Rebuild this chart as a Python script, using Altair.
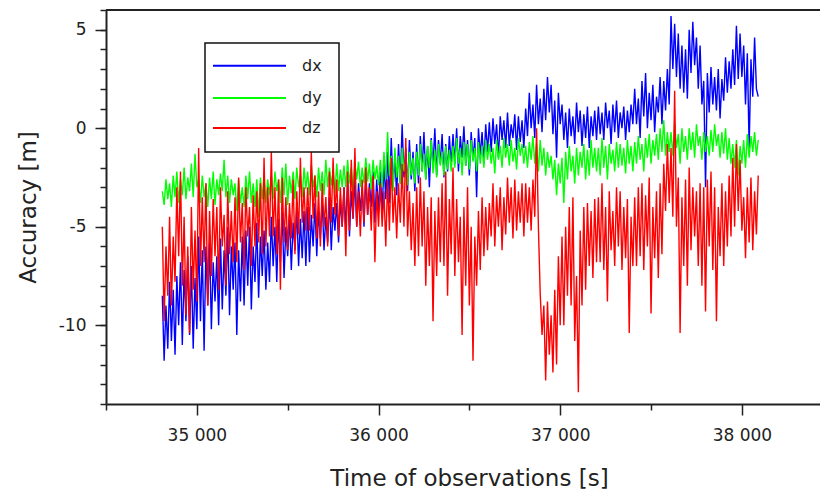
import altair as alt
import pandas as pd

SERIES = ["dx", "dy", "dz"]
COLORS = ["#0000ff", "#00ff00", "#ff0000"]

T_START = 34810
T_STEP = 10

dx = [
    -8.5, -11.8, -9.0, -11.2, -7.8, -10.8, -8.2, -11.5, -7.5, -10.0, -6.8, -11.0, -7.2, -9.8, -6.5, -10.5, -7.0, -11.2, -7.6, -10.2,
    -5.5, -9.8, -6.2, -11.3, -6.0, -9.0, -5.8, -10.2, -6.8, -8.8, -6.5, -10.0, -5.6, -9.2, -6.2, -8.5, -5.0, -9.5, -6.0, -8.2,
    -5.8, -10.5, -6.2, -8.8, -5.5, -9.0, -5.2, -8.0, -5.0, -9.2, -6.0, -7.8, -4.8, -8.6, -5.5, -7.5, -5.2, -8.2, -5.8, -7.8,
    -4.5, -7.0, -5.0, -7.8, -4.6, -6.8, -4.2, -7.6, -5.0, -6.5, -4.4, -7.2, -4.8, -6.2, -4.0, -7.0, -4.6, -6.6, -4.2, -7.0,
    -4.0, -6.8, -4.4, -6.0, -3.8, -6.5, -4.2, -5.6, -3.6, -6.2, -4.5, -5.8, -3.5, -6.2, -4.0, -5.2, -3.8, -5.8, -3.6, -5.0,
    -3.0, -5.2, -2.6, -5.5, -3.2, -4.6, -2.5, -5.0, -2.8, -4.2, -3.0, -5.0, -2.4, -4.4, -2.8, -4.0, -2.2, -4.8, -2.6, -4.2,
    -2.2, -4.2, -1.8, -3.6, -1.2, -3.8, -0.5, -3.0, -1.5, -3.4, -0.8, -2.8, 0.2, -2.5, -1.0, -3.2, -0.6, -2.6, -1.2, -3.2,
    -0.8, -2.8, -0.4, -2.2, -0.2, -2.6, -0.9, -3.0, -0.5, -2.0, 0.0, -2.4, -0.6, -1.8, -0.3, -2.5, -0.8, -2.2, -0.4, -1.9,
    -0.3, -1.8, 0.0, -2.2, -0.4, -1.5, 0.1, -1.9, -0.6, -2.4, -0.2, -1.6, -0.5, -3.5, 0.0, -1.4, -0.2, -1.8, 0.2, -1.2,
    0.3, -1.2, 0.5, -0.8, 0.2, -1.5, 0.6, -0.6, 0.4, -1.0, 0.8, -0.9, 0.2, -0.5, 0.7, -1.1, 0.6, -0.7, 0.4, -1.0,
    1.0, -0.4, 1.8, 0.0, 1.2, -0.5, 2.2, 0.2, 1.5, -0.2, 2.0, 0.4, 2.6, 0.8, 2.2, -0.3, 1.4, -1.5, 1.8, 0.2,
    1.2, -0.6, 0.8, -1.0, 1.0, -0.4, 0.6, -0.8, 1.3, -0.2, 0.9, -0.9, 0.7, -0.5, 1.1, -1.0, 0.6, -0.4, 0.9, -0.6,
    1.1, -0.3, 0.8, -0.6, 1.3, 0.0, 0.9, -0.8, 1.2, -0.2, 1.4, -0.5, 0.8, 0.0, 1.1, -0.6, 0.9, -0.2, 1.2, 0.2,
    2.0, 0.2, 1.5, -0.5, 2.4, 0.6, 2.8, 0.0, 1.8, 0.4, 2.2, -0.2, 1.6, 0.8, 2.6, 0.2, 2.4, 0.9, 3.0, 1.2,
    5.7, 3.0, 5.3, 2.6, 4.8, 2.0, 4.2, 1.8, 4.0, 1.5, 5.0, 2.8, 5.4, 3.2, 4.6, 2.0, 4.2, 1.2, 2.4, -3.0,
    2.8, 0.8, 3.1, 1.2, 2.6, 0.9, 3.0, 0.5, 2.5, 1.4, 3.6, 1.8, 3.4, 2.0, 4.0, 2.2, 5.2, 2.5, 4.8, 2.6,
    4.2, 1.2, 3.8, -1.0, 3.5, 1.6, 4.6, 2.0, 1.6,
]

dy = [
    -3.2, -3.9, -2.6, -3.6, -2.8, -4.0, -2.4, -3.5, -2.2, -3.8, -2.6, -3.4, -2.0, -3.6, -2.5, -3.2, -1.8, -3.5, -1.3, -3.0,
    -2.6, -3.8, -2.4, -3.5, -2.8, -4.0, -2.5, -3.6, -2.2, -3.9, -2.6, -3.4, -2.3, -3.2, -1.6, -3.5, -2.4, -3.8, -2.6, -3.4,
    -2.8, -4.2, -2.6, -3.8, -3.0, -4.0, -2.4, -3.6, -2.2, -3.8, -2.8, -4.0, -2.6, -4.5, -2.5, -3.6, -2.4, -3.8, -2.6, -3.4,
    -2.4, -3.6, -2.2, -3.2, -2.6, -3.8, -2.0, -3.4, -1.8, -3.9, -2.4, -3.3, -2.2, -3.6, -2.0, -3.0, -2.4, -3.5, -2.0, -3.1,
    -2.2, -3.4, -1.9, -3.0, -2.4, -3.5, -2.0, -3.2, -2.2, -3.4, -1.6, -3.0, -2.0, -2.9, -2.2, -3.3, -1.8, -3.2, -2.1, -3.0,
    -1.9, -3.0, -1.6, -2.8, -2.0, -3.2, -1.8, -2.6, -1.7, -3.0, -2.0, -2.8, -1.5, -2.7, -1.8, -3.1, -1.6, -2.6, -1.9, -2.9,
    -1.6, -3.0, -1.2, -2.6, -0.2, -2.4, -1.4, -3.2, -1.0, -2.5, -1.4, -2.8, -1.0, -2.2, -1.6, -2.9, -1.2, -2.4, -1.5, -2.8,
    -1.2, -2.4, -0.8, -2.2, -1.3, -2.6, -0.9, -2.0, -0.6, -2.3, -1.1, -2.5, -0.8, -1.9, -1.2, -2.4, -0.9, -2.1, -1.1, -2.2,
    -0.9, -2.0, -0.5, -1.8, -1.0, -2.4, -0.7, -1.9, -0.8, -2.1, -0.6, -1.7, -1.0, -2.2, -0.7, -1.8, -0.9, -2.0, -0.6, -1.6,
    -0.8, -1.8, -1.0, -2.3, -0.6, -1.6, -0.9, -2.0, -0.5, -1.5, -0.8, -1.9, -0.6, -1.7, -1.0, -2.1, -0.5, -1.4, -0.8, -1.8,
    -0.9, -2.0, -0.7, -1.6, -0.4, -1.8, -0.8, -2.2, -0.6, -1.9, -1.0, -2.4, -1.2, -2.0, -1.4, -2.6, -1.6, -3.4, -1.8, -2.8,
    -1.5, -3.8, -1.2, -2.6, -0.9, -2.2, -1.4, -2.8, -1.0, -2.4, -1.2, -2.0, -0.8, -2.6, -1.1, -2.4, -0.6, -2.0, -1.0, -2.2,
    -1.0, -2.4, -0.5, -2.0, -0.9, -2.6, -0.8, -1.8, -1.1, -2.2, -0.7, -2.0, -0.8, -1.9, -1.0, -2.3, -0.6, -1.8, -0.9, -2.2,
    -0.7, -1.8, -0.4, -1.6, -0.8, -2.2, -0.5, -1.5, -0.3, -1.8, -0.6, -1.4, -0.3, -1.6, 0.0, -1.2, 0.4, -1.4, -0.2, -1.2,
    -0.2, -1.4, 0.3, -1.0, -0.3, -1.8, 0.0, -1.2, -0.4, -1.6, 0.0, -1.1, -0.2, -1.5, 0.2, -0.9, -0.4, -1.6, -0.2, -1.2,
    -0.4, -1.4, -0.1, -1.2, 0.2, -0.9, -0.3, -1.5, -0.2, -1.3, 0.0, -1.6, -0.5, -1.8, -0.8, -2.0, -0.6, -2.4, -0.9, -1.8,
    -0.6, -2.0, -0.3, -1.5, -0.4, -1.2, -0.2, -1.4, -0.6,
]

dz = [
    -5.0, -9.8, -6.0, -8.5, -4.5, -9.0, -5.5, -7.8, -3.0, -6.5, -2.2, -8.0, -4.5, -9.5, -6.0, -10.4, -4.0, -8.2, -5.2, -8.8,
    -1.0, -7.0, -3.5, -6.8, -2.8, -9.0, -4.2, -7.5, -3.6, -6.5, -4.0, -8.2, -3.0, -6.0, -4.4, -8.0, -3.2, -6.4, -4.2, -6.8,
    -3.5, -6.8, -2.5, -5.8, -3.8, -7.2, -3.0, -5.5, -4.0, -7.0, -3.4, -6.0, -3.2, -5.8, -2.8, -6.4, -1.5, -6.0, -3.0, -5.5,
    -1.2, -5.5, -3.0, -6.4, -2.6, -8.2, -2.5, -5.8, -3.5, -6.2, -3.8, -5.6, -2.6, -6.4, -3.2, -5.4, -1.5, -4.8, -3.0, -5.2,
    -3.0, -5.2, -1.2, -4.6, -2.4, -5.6, -3.2, -6.0, -2.8, -5.0, -3.5, -6.0, -2.2, -4.8, -1.5, -4.4, -2.6, -5.5, -3.0, -5.0,
    -3.0, -6.5, -2.2, -5.2, -1.6, -4.6, -1.0, -5.0, -3.2, -5.5, -2.6, -4.8, -2.0, -4.4, -3.0, -5.2, -2.4, -6.8, -3.2, -5.0,
    -2.8, -5.0, -3.2, -6.0, -2.6, -5.2, -1.5, -4.8, -3.0, -5.6, -2.8, -4.8, -1.8, -5.0, -0.5, -5.5, -3.2, -6.2, -3.8, -7.0,
    -3.0, -6.5, -2.5, -6.0, -3.2, -8.0, -4.0, -7.0, -3.5, -9.8, -4.2, -7.5, -3.5, -6.8, -2.8, -7.0, -2.2, -8.5, -3.6, -6.4,
    -2.0, -7.5, -3.6, -6.8, -4.5, -10.5, -4.0, -8.0, -3.0, -9.0, -5.0, -11.8, -5.5, -8.0, -4.2, -7.2, -3.5, -6.5, -4.0, -6.2,
    -3.8, -5.5, -2.8, -6.0, -3.4, -5.0, -3.0, -6.2, -3.5, -5.4, -2.5, -4.8, -3.0, -5.6, -2.6, -5.2, -3.2, -4.8, -2.8, -5.5,
    -2.8, -4.8, -3.0, -5.2, -2.6, -4.5, 0.0, -5.0, -8.4, -10.5, -9.0, -12.8, -8.8, -11.5, -9.5, -12.4, -8.2, -12.0, -6.5, -10.0,
    -5.5, -10.0, -5.0, -8.5, -4.0, -9.0, -3.5, -10.8, -7.5, -13.4, -5.2, -9.0, -4.0, -8.2, -3.8, -7.0, -4.2, -7.6, -3.6, -6.8,
    -3.5, -6.8, -2.8, -7.2, -4.0, -8.8, -3.2, -6.2, -4.2, -7.0, -3.0, -6.0, -3.2, -7.2, -4.0, -6.6, -3.6, -10.4, -4.5, -7.0,
    -3.5, -7.0, -3.0, -6.5, -2.8, -7.2, -3.4, -6.0, -2.5, -9.4, -4.0, -6.6, -3.2, -7.6, -2.8, -6.4, -1.8, -4.2, -0.8, -3.8,
    -1.0, -4.5, 1.9, -5.0, -2.5, -10.4, -3.5, -7.0, -2.6, -8.0, -2.0, -6.2, -3.0, -5.5, -3.2, -7.0, -2.8, -8.0, -3.0, -9.3,
    -2.6, -6.0, -2.2, -7.2, -3.0, -9.8, -4.0, -6.5, -2.8, -7.0, -3.2, -6.0, -2.4, -5.5, -1.5, -5.0, -0.8, -4.2, -1.6, -5.2,
    -3.5, -6.6, -3.0, -5.8, -2.5, -6.2, -3.2, -5.4, -2.4,
]

X_MAJOR = [35000, 36000, 37000, 38000]
X_MINOR = [34500, 35500, 36500, 37500]
Y_MAJOR = [-10, -5, 0, 5]
Y_MINOR = list(range(-14, 7))

rows = []
for name, vals in zip(SERIES, [dx, dy, dz]):
    for i, v in enumerate(vals):
        rows.append({"t": T_START + T_STEP * i, "value": v, "series": name})
df = pd.DataFrame(rows)

FONT = "DejaVu Sans"
INK = "#222222"
W, H = 714, 394

xscale = alt.Scale(domain=[34500, 38430], nice=False, zero=False)
yscale = alt.Scale(domain=[-14, 6], nice=False, zero=False)

main_x_axis = alt.Axis(
    orient="bottom", values=X_MAJOR, grid=False, tickSize=11, tickWidth=1.5,
    tickColor=INK, domainColor=INK, domainWidth=2,
    labelExpr="replace(format(datum.value, ','), ',', ' ')",
    labelFont=FONT, labelFontSize=17, labelColor=INK, labelPadding=12,
    title="Time of observations [s]", titleFont=FONT, titleFontSize=23,
    titleFontWeight="normal", titleColor=INK, titleX=363, titleY=81,
    titleAlign="center", titleBaseline="alphabetic",
)
main_y_axis = alt.Axis(
    orient="left", values=Y_MAJOR, grid=False, tickSize=11, tickWidth=1.5,
    tickColor=INK, domainColor=INK, domainWidth=2,
    labelExpr="'' + datum.value",
    labelFont=FONT, labelFontSize=17, labelColor=INK, labelPadding=9,
    title="Accuracy [m]", titleFont=FONT, titleFontSize=23,
    titleFontWeight="normal", titleColor=INK, titleX=-71, titleY=197,
    titleAngle=270, titleAlign="center", titleBaseline="alphabetic",
)
minor_x_axis = alt.Axis(
    orient="bottom", values=X_MINOR, grid=False, tickSize=6, tickWidth=1.5,
    tickColor=INK, domain=False, labels=False, title="",
)
minor_y_axis = alt.Axis(
    orient="left", values=Y_MINOR, grid=False, tickSize=6, tickWidth=1.5,
    tickColor=INK, domain=False, labels=False, title="",
)

lines = alt.Chart(df).mark_line(strokeWidth=1.4, clip=True).encode(
    x=alt.X("t:Q", scale=xscale, axis=main_x_axis),
    y=alt.Y("value:Q", scale=yscale, axis=main_y_axis),
    color=alt.Color("series:N", scale=alt.Scale(domain=SERIES, range=COLORS), legend=None),
)

minor = alt.Chart(df).mark_line(opacity=0).encode(
    x=alt.X("t:Q", scale=xscale, axis=minor_x_axis),
    y=alt.Y("value:Q", scale=yscale, axis=minor_y_axis),
    detail="series:N",
)

one = pd.DataFrame({"k": [0]})
top_border = alt.Chart(one).mark_rule(color=INK, strokeWidth=2).encode(
    x=alt.value(0), x2=alt.value(W), y=alt.value(0)
)

legend_box = alt.Chart(one).mark_rect(fill="white", stroke="#111111", strokeWidth=1.5).encode(
    x=alt.value(99), x2=alt.value(233), y=alt.value(33), y2=alt.value(142)
)
legend_y = [55.7, 88, 118]
legend_layers = [legend_box]
for name, col, ly in zip(SERIES, COLORS, legend_y):
    legend_layers.append(
        alt.Chart(one).mark_rule(color=col, strokeWidth=2).encode(
            x=alt.value(107), x2=alt.value(180), y=alt.value(ly)
        )
    )
    legend_layers.append(
        alt.Chart(one).mark_text(align="left", baseline="middle", font=FONT,
                                 fontSize=16, color=INK).encode(
            x=alt.value(196), y=alt.value(ly), text=alt.value(name)
        )
    )

chart = alt.layer(lines, minor, top_border, *legend_layers).resolve_scale(
    x="shared", y="shared"
).resolve_axis(
    x="independent", y="independent"
).properties(
    width=W, height=H,
    padding={"left": 106, "top": 10, "right": 0, "bottom": 89},
    autosize=alt.AutoSizeParams(type="none"),
    background="white",
).configure_view(stroke=None)

chart.save("out.html", embed_options={"renderer": "svg", "actions": False})
